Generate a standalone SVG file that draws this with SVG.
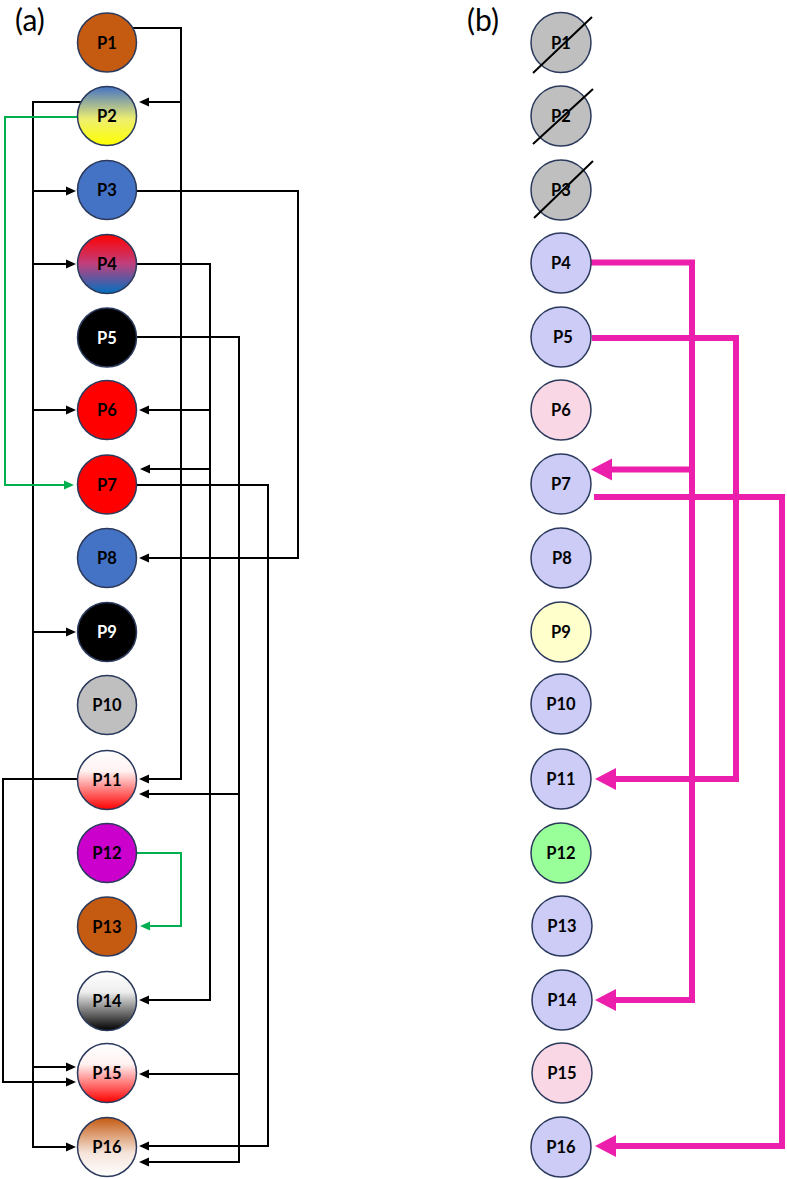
<svg xmlns="http://www.w3.org/2000/svg" width="787" height="1179" viewBox="0 0 787 1179">
<style>
.n{stroke:#2b3a5c;stroke-width:1.5}
.t{font-family:Lato,"Open Sans","Liberation Sans",sans-serif;font-weight:bold;font-size:16.5px;text-anchor:middle;dominant-baseline:central}
.w{fill:#ffffff}
.k{fill:none;stroke:#000;stroke-width:2}
.g{fill:none;stroke:#00b050;stroke-width:2}
.p{fill:none;stroke:#ec1fad;stroke-width:6}
.lab{font-family:Lato,"Open Sans","Liberation Sans",sans-serif;font-size:30px}
.x{stroke:#000;stroke-width:2}
</style>
<defs>
<marker id="ak" markerUnits="userSpaceOnUse" markerWidth="12" markerHeight="10" refX="0" refY="4.5" orient="auto" overflow="visible"><path d="M0,0 L10,4.5 L0,9 z" fill="#000"/></marker>
<marker id="ag" markerUnits="userSpaceOnUse" markerWidth="12" markerHeight="10" refX="0" refY="4.5" orient="auto" overflow="visible"><path d="M0,0 L10,4.5 L0,9 z" fill="#00b050"/></marker>
<marker id="ap" markerUnits="userSpaceOnUse" markerWidth="22" markerHeight="24" refX="0" refY="11" orient="auto" overflow="visible"><path d="M0,0 L21,11 L0,22 z" fill="#ec1fad"/></marker>
<linearGradient id="gP2" x1="0" y1="0" x2="0" y2="1"><stop offset="0" stop-color="#4472c4"/><stop offset="0.55" stop-color="#eeee70"/><stop offset="1" stop-color="#ffff00"/></linearGradient>
<linearGradient id="gP4" x1="0" y1="0" x2="0" y2="1"><stop offset="0" stop-color="#ff0000"/><stop offset="0.5" stop-color="#c0407e"/><stop offset="1" stop-color="#0070c0"/></linearGradient>
<linearGradient id="gWR" x1="0" y1="0" x2="0" y2="1"><stop offset="0" stop-color="#ffffff"/><stop offset="0.35" stop-color="#fff2f2"/><stop offset="1" stop-color="#ff0000"/></linearGradient>
<linearGradient id="gP14" x1="0" y1="0" x2="0" y2="1"><stop offset="0" stop-color="#ffffff"/><stop offset="0.35" stop-color="#eeeeee"/><stop offset="1" stop-color="#000000"/></linearGradient>
<linearGradient id="gP16" x1="0" y1="0" x2="0" y2="1"><stop offset="0" stop-color="#c55a11"/><stop offset="0.6" stop-color="#f5e4da"/><stop offset="1" stop-color="#ffffff"/></linearGradient>
</defs>
<rect width="787" height="1179" fill="#ffffff"/>
<text class="lab" x="15" y="31">(a)</text>
<text class="lab" x="467" y="31">(b)</text>

<g id="connectors-a">
<path class="k" d="M133,28 H181 V779 H149" marker-end="url(#ak)"/>
<path class="k" d="M181,102 H149" marker-end="url(#ak)"/>
<path class="k" d="M81,102 H33 V1147 H66" marker-end="url(#ak)"/>
<path class="k" d="M33,191 H66" marker-end="url(#ak)"/>
<path class="k" d="M33,264 H66" marker-end="url(#ak)"/>
<path class="k" d="M33,410 H66" marker-end="url(#ak)"/>
<path class="k" d="M33,632 H66" marker-end="url(#ak)"/>
<path class="k" d="M33,1067 H66" marker-end="url(#ak)"/>
<path class="g" d="M78,117 H5 V485 H64" marker-end="url(#ag)"/>
<path class="k" d="M137,191 H298 V558 H149" marker-end="url(#ak)"/>
<path class="k" d="M137,264 H210 V1000 H149" marker-end="url(#ak)"/>
<path class="k" d="M210,410 H149" marker-end="url(#ak)"/>
<path class="k" d="M210,469 H150" marker-end="url(#ak)"/>
<path class="k" d="M137,337 H239 V1162 H149" marker-end="url(#ak)"/>
<path class="k" d="M239,794 H149" marker-end="url(#ak)"/>
<path class="k" d="M239,1074 H149" marker-end="url(#ak)"/>
<path class="k" d="M137,485 H268 V1146 H149" marker-end="url(#ak)"/>
<path class="k" d="M78,779 H3 V1082 H66" marker-end="url(#ak)"/>
<path class="g" d="M137,853 H181 V926 H150" marker-end="url(#ag)"/>
</g>

<g id="a-P1"><circle class="n" cx="107" cy="42.5" r="29.5" fill="#c55a11"/><text class="t" x="107" y="42.5">P1</text></g>
<g id="a-P2"><circle class="n" cx="107" cy="116" r="29.5" fill="url(#gP2)"/><text class="t" x="107" y="116">P2</text></g>
<g id="a-P3"><circle class="n" cx="107" cy="190" r="29.5" fill="#4472c4"/><text class="t" x="107" y="190">P3</text></g>
<g id="a-P4"><circle class="n" cx="107" cy="264" r="29.5" fill="url(#gP4)"/><text class="t" x="107" y="264">P4</text></g>
<g id="a-P5"><circle class="n" cx="107" cy="337.5" r="29.5" fill="#000000"/><text class="t w" x="107" y="337.5">P5</text></g>
<g id="a-P6"><circle class="n" cx="107" cy="410" r="29.5" fill="#ff0000"/><text class="t" x="107" y="410">P6</text></g>
<g id="a-P7"><circle class="n" cx="107" cy="484.5" r="29.5" fill="#ff0000"/><text class="t" x="107" y="484.5">P7</text></g>
<g id="a-P8"><circle class="n" cx="107" cy="558" r="29.5" fill="#4472c4"/><text class="t" x="107" y="558">P8</text></g>
<g id="a-P9"><circle class="n" cx="107" cy="632" r="29.5" fill="#000000"/><text class="t w" x="107" y="632">P9</text></g>
<g id="a-P10"><circle class="n" cx="107" cy="705" r="29.5" fill="#bfbfbf"/><text class="t" x="107" y="705">P10</text></g>
<g id="a-P11"><circle class="n" cx="107" cy="780" r="29.5" fill="url(#gWR)"/><text class="t" x="107" y="780">P11</text></g>
<g id="a-P12"><circle class="n" cx="107" cy="853" r="29.5" fill="#cc00cc"/><text class="t" x="107" y="853">P12</text></g>
<g id="a-P13"><circle class="n" cx="107" cy="926.5" r="29.5" fill="#c55a11"/><text class="t" x="107" y="926.5">P13</text></g>
<g id="a-P14"><circle class="n" cx="107" cy="1001" r="29.5" fill="url(#gP14)"/><text class="t" x="107" y="1001">P14</text></g>
<g id="a-P15"><circle class="n" cx="107" cy="1073" r="29.5" fill="url(#gWR)"/><text class="t" x="107" y="1073">P15</text></g>
<g id="a-P16"><circle class="n" cx="107" cy="1147" r="29.5" fill="url(#gP16)"/><text class="t" x="107" y="1147">P16</text></g>

<g id="connectors-b">
<path class="p" d="M591,262.5 H692 V1000 H616" marker-end="url(#ap)"/>
<path class="p" d="M692,469.5 H612" marker-end="url(#ap)"/>
<path class="p" d="M592,338 H736 V779 H616" marker-end="url(#ap)"/>
<path class="p" d="M594,497 H782 V1146 H616" marker-end="url(#ap)"/>
</g>

<g id="b-P1"><circle class="n" cx="561" cy="42.5" r="30" fill="#bfbfbf"/><text class="t" x="561" y="42.5">P1</text><line class="x" x1="533" y1="73" x2="592" y2="17"/></g>
<g id="b-P2"><circle class="n" cx="561" cy="116" r="30" fill="#bfbfbf"/><text class="t" x="561" y="116">P2</text><line class="x" x1="533" y1="144" x2="593" y2="89"/></g>
<g id="b-P3"><circle class="n" cx="561" cy="190" r="30" fill="#bfbfbf"/><text class="t" x="561" y="190">P3</text><line class="x" x1="534" y1="218" x2="593" y2="161"/></g>
<g id="b-P4"><circle class="n" cx="561" cy="263" r="30" fill="#ccccf7"/><text class="t" x="561" y="263">P4</text></g>
<g id="b-P5"><circle class="n" cx="561" cy="337" r="30" fill="#ccccf7"/><text class="t" x="563" y="337">P5</text></g>
<g id="b-P6"><circle class="n" cx="561" cy="410" r="30" fill="#f9d7e4"/><text class="t" x="561" y="410">P6</text></g>
<g id="b-P7"><circle class="n" cx="561" cy="484" r="30" fill="#ccccf7"/><text class="t" x="561" y="484">P7</text></g>
<g id="b-P8"><circle class="n" cx="561" cy="558" r="30" fill="#ccccf7"/><text class="t" x="562" y="558">P8</text></g>
<g id="b-P9"><circle class="n" cx="561" cy="632" r="30" fill="#ffffcc"/><text class="t" x="561" y="632">P9</text></g>
<g id="b-P10"><circle class="n" cx="561" cy="704" r="30" fill="#ccccf7"/><text class="t" x="561" y="704">P10</text></g>
<g id="b-P11"><circle class="n" cx="561" cy="779" r="30" fill="#ccccf7"/><text class="t" x="561" y="779">P11</text></g>
<g id="b-P12"><circle class="n" cx="561" cy="853" r="30" fill="#99ff99"/><text class="t" x="561" y="853">P12</text></g>
<g id="b-P13"><circle class="n" cx="562" cy="926" r="30" fill="#ccccf7"/><text class="t" x="562" y="926">P13</text></g>
<g id="b-P14"><circle class="n" cx="562" cy="1000" r="30" fill="#ccccf7"/><text class="t" x="562" y="1000">P14</text></g>
<g id="b-P15"><circle class="n" cx="562" cy="1073" r="30" fill="#f9d7e4"/><text class="t" x="562" y="1073">P15</text></g>
<g id="b-P16"><circle class="n" cx="561" cy="1147" r="30" fill="#ccccf7"/><text class="t" x="561" y="1147">P16</text></g>
</svg>
